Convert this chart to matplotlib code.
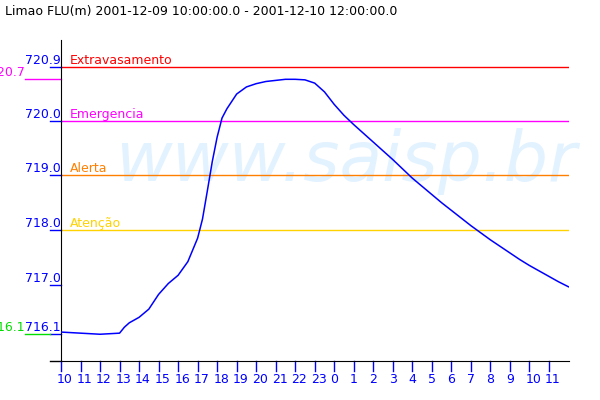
import matplotlib
matplotlib.use("Agg")
import matplotlib.pyplot as plt

# hours counted from 2001-12-09 00:00
hours = [10.0, 10.5, 11.0, 11.5, 12.0, 12.5, 13.0, 13.25, 13.5, 14.0, 14.5,
         15.0, 15.5, 16.0, 16.5, 17.0, 17.25, 17.5, 17.75, 18.0, 18.25, 18.5,
         19.0, 19.5, 20.0, 20.5, 21.0, 21.5, 22.0, 22.5, 23.0, 23.5, 24.0,
         24.5, 25.0, 25.5, 26.0, 26.5, 27.0, 27.5, 28.0, 28.5, 29.0, 29.5,
         30.0, 30.5, 31.0, 31.5, 32.0, 32.5, 33.0, 33.5, 34.0, 34.5, 35.0,
         35.5, 36.0]
level = [716.13, 716.12, 716.11, 716.10, 716.09, 716.10, 716.11, 716.22, 716.30,
         716.40, 716.55, 716.82, 717.02, 717.17, 717.42, 717.85, 718.20, 718.72,
         719.25, 719.70, 720.05, 720.22, 720.49, 720.62, 720.68, 720.72, 720.74,
         720.76, 720.76, 720.75, 720.69, 720.53, 720.30, 720.10, 719.93, 719.77,
         719.61, 719.45, 719.29, 719.12, 718.95, 718.80, 718.65, 718.50, 718.36,
         718.22, 718.08, 717.95, 717.82, 717.70, 717.58, 717.46, 717.35, 717.25,
         717.15, 717.05, 716.96]

thresh_names = ["Extravasamento", "Emergencia", "Alerta", "Atenção"]
thresh_values = [720.99, 720.0, 719.0, 718.0]
thresh_colors = ["#ff0000", "#ff00ff", "#ff8000", "#ffd200"]

ytick_values = [716.1, 717.0, 718.0, 719.0, 720.0, 720.99]
ytick_labels = ["716.1", "717.0", "718.0", "719.0", "720.0", "720.9"]

xtick_hours = list(range(10, 36))
xtick_labels = [str(h % 24) for h in xtick_hours]

max_level, max_label = 720.76, "720.7"
min_level, min_label = 716.1, "716.1"

title = "Limao FLU(m) 2001-12-09 10:00:00.0 - 2001-12-10 12:00:00.0"

BLUE = "#0000ff"
FS = 9

fig = plt.figure(figsize=(6, 4), dpi=100)
ax = fig.add_axes([61 / 600, 39 / 400, 508 / 600, 321 / 400])
ax.set_facecolor("none")
ax.set_xlim(10, 36.03)
ax.set_ylim(715.60, 721.48)
for s in ["top", "right"]:
    ax.spines[s].set_visible(False)
ax.spines["left"].set_color("black")
ax.spines["bottom"].set_color("black")
ax.set_xticks([])
ax.set_yticks([])

fig.text(5 / 600, 1 - 12 / 400, title, fontsize=FS, va="center", ha="left")

# watermark
ax.text(0.56, 0.62, "www.saisp.br", transform=ax.transAxes, fontsize=50,
        style="italic", color="#e3f2ff", ha="center", va="center", zorder=0)

# threshold lines
for name, val, col in zip(thresh_names, thresh_values, thresh_colors):
    ax.axhline(val, color=col, lw=1, zorder=1)
    ax.text(9 / 508, val, name, transform=ax.get_yaxis_transform(),
            color=col, fontsize=FS, ha="left", va="bottom")

# series
ax.plot(hours, level, color=BLUE, lw=1.1, zorder=3)

ytr = ax.get_yaxis_transform()
tick_px = 11 / 508
for v, lab in zip(ytick_values, ytick_labels):
    ax.plot([-tick_px, 0], [v, v], color=BLUE, lw=1, transform=ytr, clip_on=False)
    ax.text(-0.001, v, lab, transform=ytr, color=BLUE, fontsize=FS,
            ha="right", va="bottom", clip_on=False)

# max / min markers on the left
ext = 36 / 508
ax.plot([-ext, 0], [max_level, max_level], color="#ff00ff", lw=1, transform=ytr, clip_on=False)
ax.text(-ext, max_level, max_label, transform=ytr, color="#ff00ff", fontsize=FS,
        ha="right", va="bottom", clip_on=False)
ax.plot([-ext, -tick_px], [min_level, min_level], color="#00dd00", lw=1, transform=ytr, clip_on=False)
ax.text(-ext, min_level, min_label, transform=ytr, color="#00dd00", fontsize=FS,
        ha="right", va="bottom", clip_on=False)

# bottom axis extends left of the y axis
xtr = ax.get_xaxis_transform()
ax.plot([-tick_px, 0], [0, 0], color="black", lw=1, transform=ax.transAxes, clip_on=False)

tick_h = 10 / 321
for h, lab in zip(xtick_hours, xtick_labels):
    ax.plot([h, h], [0, -tick_h], color=BLUE, lw=1, transform=xtr, clip_on=False)
    ax.text(h - 0.2, -tick_h - 0.005, lab, transform=xtr, color=BLUE, fontsize=FS,
            ha="left", va="top", clip_on=False)

fig.savefig("out.png", dpi=100)
